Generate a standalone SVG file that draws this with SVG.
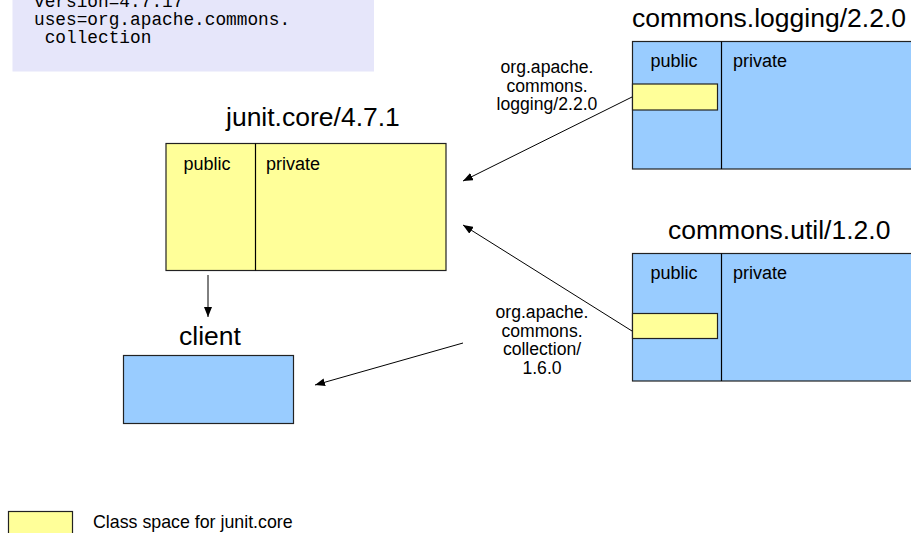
<svg xmlns="http://www.w3.org/2000/svg" width="911" height="533" viewBox="0 0 911 533">
  <style>
    .t { font-family: "Liberation Sans", Arial, sans-serif; fill: #000; }
    .title { font-size: 26.5px; }
    .lbl { font-size: 18px; }
    .cl { font-size: 17.6px; text-anchor: middle; }
    .mono { font-family: "Liberation Mono", "Courier New", monospace; font-size: 17.8px; fill: #000; }
    .yel { fill: #ffff99; stroke: #222; stroke-width: 1.2; }
    .blu { fill: #99ccff; stroke: #222; stroke-width: 1.2; }
    .div { stroke: #000; stroke-width: 1.2; }
    .con { stroke: #000; stroke-width: 1; fill: none; marker-end: url(#ah); }
  </style>
  <defs>
    <marker id="ah" viewBox="0 0 10 8" refX="10" refY="4" markerWidth="10" markerHeight="8" markerUnits="userSpaceOnUse" orient="auto">
      <path d="M0,0 L10,4 L0,8 Z" fill="#000"/>
    </marker>
  </defs>
  <rect width="911" height="533" fill="#fff"/>

  <!-- manifest note -->
  <g id="note">
    <rect x="12.5" y="-2" width="361.5" height="73.5" fill="#e6e6fa"/>
    <text class="mono" x="34" y="7">version=4.7.17</text>
    <text class="mono" x="34" y="25">uses=org.apache.commons.</text>
    <text class="mono" x="34" y="43">&#160;collection</text>
  </g>

  <!-- junit.core bundle -->
  <g id="junit-core">
    <text class="t title" x="226" y="126">junit.core/4.7.1</text>
    <rect class="yel" x="166" y="143.5" width="280" height="127"/>
    <line class="div" x1="255.5" y1="143.5" x2="255.5" y2="270.5"/>
    <text class="t lbl" x="207" y="170" text-anchor="middle">public</text>
    <text class="t lbl" x="266" y="170">private</text>
  </g>

  <!-- commons.logging bundle -->
  <g id="commons-logging">
    <text class="t title" x="632" y="27">commons.logging/2.2.0</text>
    <rect class="blu" x="632.5" y="41.5" width="290" height="127.5"/>
    <line class="div" x1="721.5" y1="41.5" x2="721.5" y2="169"/>
    <text class="t lbl" x="674" y="67" text-anchor="middle">public</text>
    <text class="t lbl" x="733" y="67">private</text>
    <rect class="yel" x="632.5" y="84" width="85" height="26"/>
  </g>

  <!-- commons.util bundle -->
  <g id="commons-util">
    <text class="t title" x="668" y="239">commons.util/1.2.0</text>
    <rect class="blu" x="632.5" y="253.5" width="290" height="127.5"/>
    <line class="div" x1="721.5" y1="253.5" x2="721.5" y2="381"/>
    <text class="t lbl" x="674" y="279" text-anchor="middle">public</text>
    <text class="t lbl" x="733" y="279">private</text>
    <rect class="yel" x="632.5" y="313.5" width="85" height="25"/>
  </g>

  <!-- client bundle -->
  <g id="client">
    <text class="t title" x="179" y="345">client</text>
    <rect class="blu" x="123.5" y="355.5" width="170" height="68"/>
  </g>

  <!-- connectors -->
  <g id="connectors">
    <line class="con" x1="632" y1="97" x2="463" y2="181"/>
    <line class="con" x1="632" y1="331" x2="463" y2="225"/>
    <line class="con" x1="463" y1="343" x2="315" y2="385"/>
    <line class="con" x1="208" y1="275" x2="208" y2="317"/>
    <text class="t cl" x="547" y="73">org.apache.</text>
    <text class="t cl" x="547" y="91.5">commons.</text>
    <text class="t cl" x="547" y="110">logging/2.2.0</text>
    <text class="t cl" x="542" y="318">org.apache.</text>
    <text class="t cl" x="542" y="336.5">commons.</text>
    <text class="t cl" x="542" y="355">collection/</text>
    <text class="t cl" x="542" y="373.5">1.6.0</text>
  </g>

  <!-- legend -->
  <g id="legend">
    <rect class="yel" x="8.5" y="511.5" width="64" height="30"/>
    <text class="t lbl" x="93" y="528" style="font-size:17.8px">Class space for junit.core</text>
  </g>
</svg>
